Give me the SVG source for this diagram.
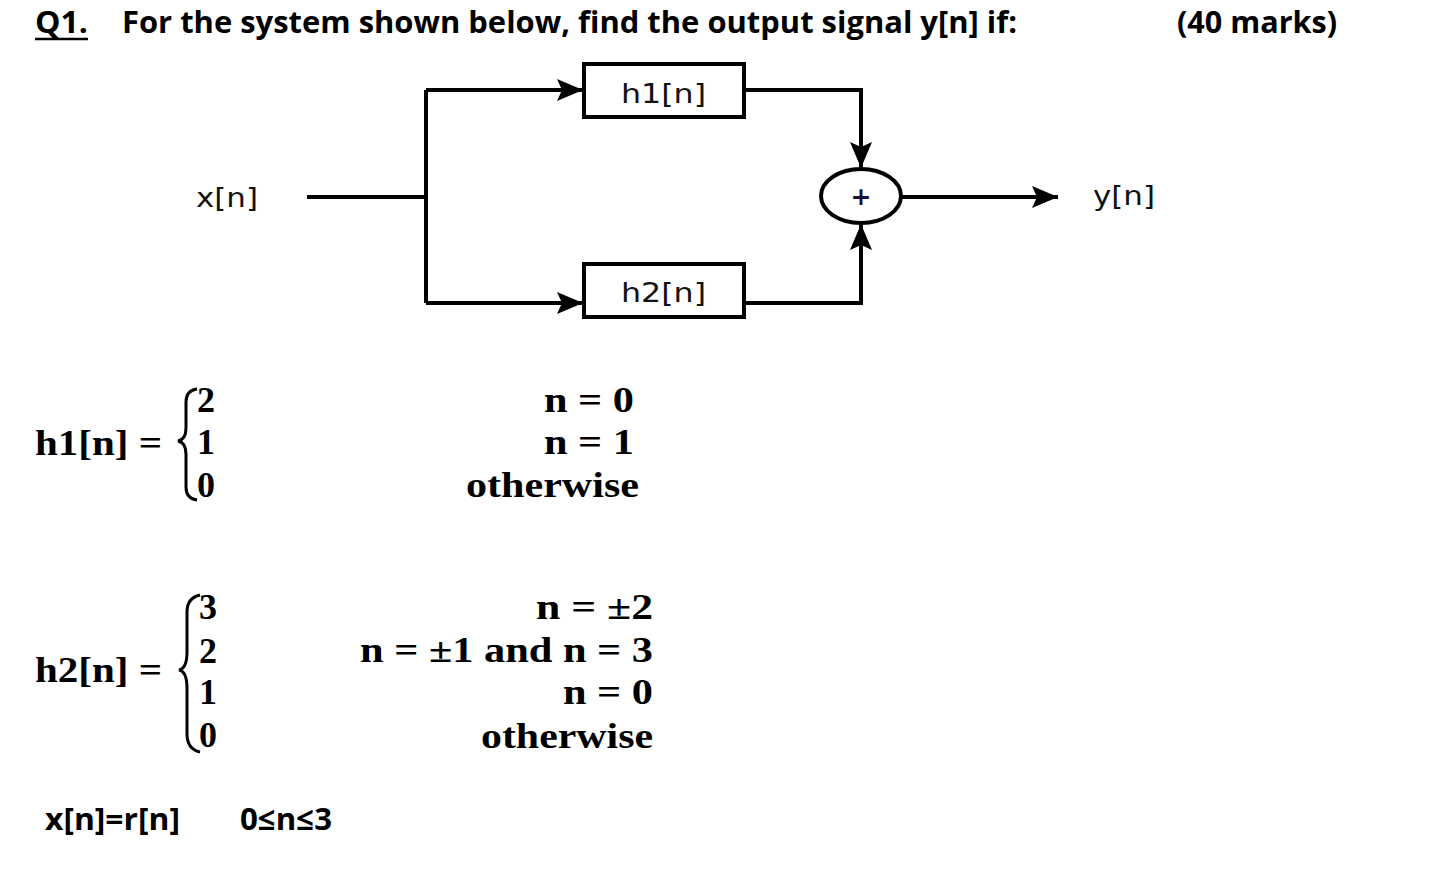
<svg xmlns="http://www.w3.org/2000/svg" width="1440" height="883" viewBox="0 0 1440 883">
<style>
.title{font-family:"Open Sans",Lato,"Liberation Sans",sans-serif;font-weight:bold;font-size:31px;fill:#000}
.lbl{font-family:"DejaVu Sans",Verdana,sans-serif;font-size:27px;fill:#111}
.eq{font-family:"Liberation Serif","DejaVu Serif",serif;font-weight:bold;font-size:36px;fill:#000}
.wire{fill:none;stroke:#000;stroke-width:4}
.box{fill:#fff;stroke:#000;stroke-width:4}
.brace{fill:none;stroke:#000;stroke-width:3}
</style>
<defs>
<marker id="arr" markerUnits="userSpaceOnUse" markerWidth="28" markerHeight="24" refX="26" refY="12" orient="auto">
<path d="M0,1 L26,12 L0,23 L5,12 Z" fill="#000"/>
</marker>
</defs>
<rect width="1440" height="883" fill="#fff"/>

<g id="title">
<text class="title" x="35" y="33" textLength="53" lengthAdjust="spacingAndGlyphs">Q1.</text>
<line x1="35" y1="39" x2="88" y2="39" stroke="#000" stroke-width="2.5"/>
<text class="title" x="122" y="33" textLength="895" lengthAdjust="spacingAndGlyphs">For the system shown below, find the output signal y[n] if:</text>
<text class="title" x="1177" y="33" textLength="160" lengthAdjust="spacingAndGlyphs">(40 marks)</text>
</g>

<g id="connectors">
<path class="wire" d="M307,197 H426"/>
<path class="wire" d="M426,90 V303"/>
<path class="wire" d="M426,90 H583" marker-end="url(#arr)"/>
<path class="wire" d="M426,303 H583" marker-end="url(#arr)"/>
<path class="wire" d="M745,90 H861 V168" marker-end="url(#arr)"/>
<path class="wire" d="M745,303 H861 V224" marker-end="url(#arr)"/>
<path class="wire" d="M901,197 H1058" marker-end="url(#arr)"/>
</g>

<g id="x-label">
<text class="lbl" x="196" y="207" textLength="62" lengthAdjust="spacingAndGlyphs">x[n]</text>
</g>
<g id="h1-block">
<rect class="box" x="584" y="64" width="160" height="53"/>
<text class="lbl" x="621" y="103" textLength="85" lengthAdjust="spacingAndGlyphs">h1[n]</text>
</g>
<g id="h2-block">
<rect class="box" x="584" y="264" width="160" height="53"/>
<text class="lbl" x="621" y="302" textLength="85" lengthAdjust="spacingAndGlyphs">h2[n]</text>
</g>
<g id="sum">
<ellipse cx="861" cy="196" rx="40" ry="27" fill="#fff" stroke="#000" stroke-width="4"/>
<text x="861" y="205" text-anchor="middle" font-family="DejaVu Sans,sans-serif" font-weight="bold" font-size="25" fill="#1a1030">+</text>
</g>
<g id="y-label">
<text class="lbl" x="1093" y="205" textLength="62" lengthAdjust="spacingAndGlyphs">y[n]</text>
</g>

<g id="h1-def">
<text class="eq" x="35" y="455" textLength="127" lengthAdjust="spacingAndGlyphs">h1[n] =</text>
<path class="brace" d="M197,389 C189,390 186,395 186,402 V428 C186,436 183,440 178,441 C183,442 186,446 186,454 V487 C186,494 189,499 197,500"/>
<text class="eq" x="197" y="412">2</text>
<text class="eq" x="197" y="454">1</text>
<text class="eq" x="197" y="497">0</text>
<g text-anchor="end">
<text class="eq" x="634" y="412" textLength="90" lengthAdjust="spacingAndGlyphs">n = 0</text>
<text class="eq" x="634" y="454" textLength="90" lengthAdjust="spacingAndGlyphs">n = 1</text>
<text class="eq" x="639" y="497" textLength="173" lengthAdjust="spacingAndGlyphs">otherwise</text>
</g>
</g>

<g id="h2-def">
<text class="eq" x="35" y="682" textLength="127" lengthAdjust="spacingAndGlyphs">h2[n] =</text>
<path class="brace" d="M200,595 C191,597 187,603 187,612 V652 C187,664 184,669 179,670 C184,671 187,676 187,688 V734 C187,744 191,750 200,752"/>
<text class="eq" x="199" y="619">3</text>
<text class="eq" x="199" y="663">2</text>
<text class="eq" x="199" y="704">1</text>
<text class="eq" x="199" y="747">0</text>
<g text-anchor="end">
<text class="eq" x="653" y="619" textLength="117" lengthAdjust="spacingAndGlyphs">n = ±2</text>
<text class="eq" x="653" y="662" textLength="293" lengthAdjust="spacingAndGlyphs">n = ±1 and n = 3</text>
<text class="eq" x="653" y="704" textLength="90" lengthAdjust="spacingAndGlyphs">n = 0</text>
<text class="eq" x="653" y="748" textLength="172" lengthAdjust="spacingAndGlyphs">otherwise</text>
</g>
</g>

<g id="input-def">
<text class="title" x="45" y="830" textLength="135" lengthAdjust="spacingAndGlyphs">x[n]=r[n]</text>
<text class="title" x="240" y="830" textLength="92" lengthAdjust="spacingAndGlyphs">0≤n≤3</text>
</g>
</svg>
